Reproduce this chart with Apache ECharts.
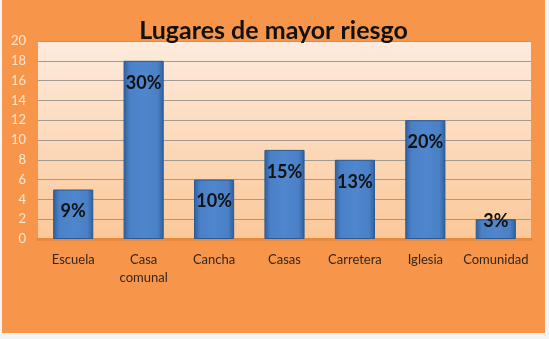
<!DOCTYPE html>
<html>
<head>
<meta charset="utf-8">
<script src="https://cdn.jsdelivr.net/npm/echarts@6/dist/echarts.min.js"></script>
<style>
  html, body { margin: 0; padding: 0; background: #f4f4f4; }
  #main { position: absolute; left: 2px; top: 0; width: 543px; height: 333px; background: #f7964a; }
</style>
</head>
<body>
<div id="main"></div>
<script>
// datos
const lugares = ['Escuela', 'Casa\ncomunal', 'Cancha', 'Casas', 'Carretera', 'Iglesia', 'Comunidad'];
const valores = [5, 18, 6, 9, 8, 12, 2];
const porcentajes = ['9%', '30%', '10%', '15%', '13%', '20%', '3%'];

const chart = echarts.init(document.getElementById('main'));

const barColor = new echarts.graphic.LinearGradient(0, 0, 1, 0, [
  { offset: 0, color: '#2f5f9c' },
  { offset: 0.15, color: '#4a80c6' },
  { offset: 0.5, color: '#4f86cd' },
  { offset: 0.85, color: '#4a80c6' },
  { offset: 1, color: '#2f5f9c' }
]);

// barras muy bajas: la etiqueta sube sobre el borde
const datos = valores.map((v, i) => {
  const item = { value: v, label: { formatter: porcentajes[i] } };
  if (v < 3) item.label.distance = -7;
  return item;
});

const option = {
  title: {
    text: 'Lugares de mayor riesgo',
    left: 'center',
    top: 13,
    textStyle: { fontFamily: 'Lato', fontSize: 25, fontWeight: 'bold', color: '#111' }
  },
  grid: {
    left: 36, right: 14, top: 41, bottom: 94,
    outerBoundsMode: 'none',
    show: true,
    borderWidth: 0,
    backgroundColor: new echarts.graphic.LinearGradient(0, 0, 0, 1, [
      { offset: 0, color: '#fdebdd' },
      { offset: 1, color: '#fbc899' }
    ])
  },
  xAxis: {
    type: 'category',
    data: lugares,
    axisLine: { show: true, lineStyle: { color: '#e58a3e', width: 3 } },
    axisTick: { show: false },
    axisLabel: {
      interval: 0, margin: 12, color: '#33261c',
      fontFamily: 'Lato', fontSize: 13, lineHeight: 18
    }
  },
  yAxis: {
    type: 'value',
    min: 0, max: 20, interval: 2,
    axisLine: { show: false },
    axisTick: { show: false },
    axisLabel: { color: '#fde6d2', fontFamily: 'Lato', fontSize: 13, margin: 12 },
    splitLine: { lineStyle: { color: '#a39a92', width: 1 } }
  },
  series: [{
    type: 'bar',
    data: datos,
    barCategoryGap: '43%',
    itemStyle: { color: barColor, borderColor: '#2b5990', borderWidth: 1 },
    label: {
      show: true,
      position: 'insideTop',
      distance: 13,
      color: '#111',
      fontFamily: 'Lato',
      fontSize: 18,
      fontWeight: 'bold'
    }
  }],
  animation: false
};

chart.setOption(option);
</script>
</body>
</html>
